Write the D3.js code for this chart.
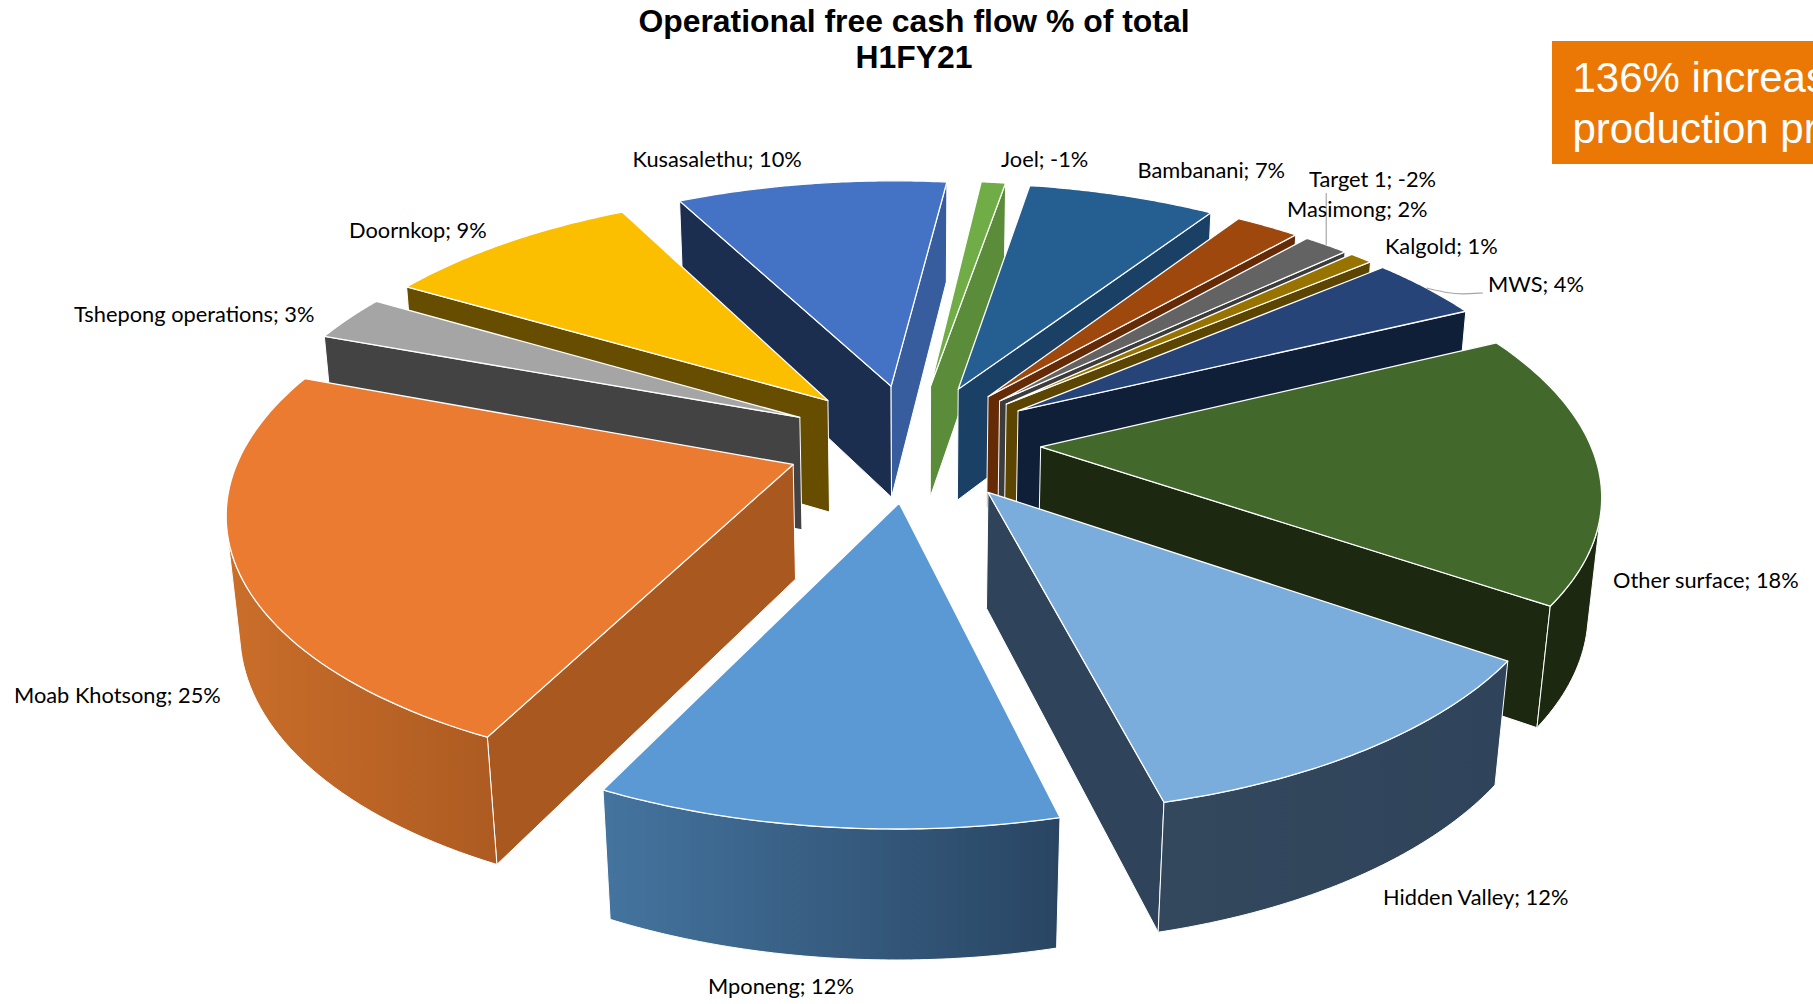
<!DOCTYPE html><html><head><meta charset="utf-8"><script src="https://cdn.jsdelivr.net/npm/d3@7"></script>
<style>html,body{margin:0;background:#fff;overflow:hidden}svg{display:block}</style></head><body><svg id="chart" width="1813" height="1004"></svg>
<script>
// ---- data, clockwise from the top of the pie
const mines=["Joel","Bambanani","Masimong","Target 1","Kalgold","MWS","Other surface","Hidden Valley","Mponeng","Moab Khotsong","Tshepong operations","Doornkop","Kusasalethu"];
const shares=[-0.90,6.92,2.37,-1.67,0.86,4.24,17.81,12.17,11.82,24.78,3.02,9.47,9.97];
const titleLines=["Operational free cash flow % of total","H1FY21"];
const calloutLines=["136% increas","production pr"];
// ---- styles
const topFill=["#70AD47","#255E91","#9E480E","#636363","#997300","#264478","#43682B","#7BADDC","#5B99D5","#EA7B31","#A5A5A5","#FBBF00","#4472C4"];
const startWall=["#43682B","#1A4165","#652B07","#3C3C3C","#5C4500","#101F38","#1C2810","#2F445A","#2F4F70","#A9581F","#434343","#664D00","#1B2E50"];
const endWall=["#5B8C3A","#1A4165","#652B07","#3C3C3C","#5C4500","#101F38","#1C2810","#2F445A","#2F4F70","#A9581F","#434343","#664D00","#385D9E"];
const rimWallLeft=["#5B8C3A","#1A4165","#652B07","#3C3C3C","#5C4500","#101F38","#1C2810","#33475D","#44749F","#CA6E2A","#434343","#664D00","#385D9E"];
const rimWallRight=["#5B8C3A","#1A4165","#652B07","#3C3C3C","#5C4500","#101F38","#1C2810","#2F445A","#294562","#AD5B22","#434343","#664D00","#385D9E"];
// ---- label layout: left edge and baseline of each label
const labelX=[1001,1137.5,1287,1309,1385,1488,1613,1383,708,14,74,349,632.5];
const labelY=[166.7,178,217,187,254,292,588,905,994,703,322,238,166.7];
// ---- the 3D view: camera elevation, perspective distance, pie geometry
const view={cx:913.2,cy:442.3,radius:549,elevation:0.4804,distance:3115,depth:130.6,explode:127.5,start:0.115};
const sinE=Math.sin(view.elevation),cosE=Math.cos(view.elevation);
function project(arcData,r,theta,z){
  const mid=(arcData.startAngle+arcData.endAngle)/2;
  const x=view.explode*Math.sin(mid)+r*Math.sin(theta),y=view.explode*Math.cos(mid)+r*Math.cos(theta);
  const up=y*sinE+z*cosE,away=y*cosE-z*sinE,w=view.distance/(view.distance+away);
  return [view.cx+x*w,view.cy-up*w];
}
const slices=d3.pie().sort(null).value(d=>Math.abs(d)).startAngle(view.start).endAngle(view.start+2*Math.PI)(shares);
const svg=d3.select("#chart"),defs=svg.append("defs"),path=d3.line();
const nearness=d=>{const m=(d.startAngle+d.endAngle)/2;return Math.cos(m)*(view.explode+view.radius/2);};
const gPie=svg.append("g");
d3.sort(slices,d=>-nearness(d)).forEach(d=>{
  const i=d.index,steps=d3.range(0,61).map(k=>d3.interpolateNumber(d.startAngle,d.endAngle)(k/60));
  const g=gPie.append("g").attr("class","slice");
  const rimTop=steps.map(t=>project(d,view.radius,t,0)),rimBot=steps.map(t=>project(d,view.radius,t,-view.depth));
  const apexTop=project(d,0,0,0),apexBot=project(d,0,0,-view.depth);
  const faces=q=>d3.polygonArea(q)>0;
  const quad=(q,fill)=>{if(faces(q))g.append("path").attr("d",path(q)+"Z").attr("fill",fill).attr("stroke","#fff").attr("stroke-width",1).attr("stroke-linejoin","round");};
  quad([apexTop,rimTop[0],rimBot[0],apexBot],startWall[i]);
  quad([rimTop[60],apexTop,apexBot,rimBot[60]],endWall[i]);
  const seen=d3.range(60).filter(k=>faces([rimTop[k],rimTop[k+1],rimBot[k+1],rimBot[k]]));
  if(seen.length){
    const idx=[...seen,seen[seen.length-1]+1];
    const poly=[...idx.map(k=>rimTop[k]),...idx.slice().reverse().map(k=>rimBot[k])];
    const xs=d3.extent(poly,p=>p[0]),id="rim"+i;
    const lg=defs.append("linearGradient").attr("id",id).attr("gradientUnits","userSpaceOnUse").attr("x1",xs[0]).attr("x2",xs[1]).attr("y1",0).attr("y2",0);
    lg.append("stop").attr("offset",0).attr("stop-color",rimWallLeft[i]);
    lg.append("stop").attr("offset",1).attr("stop-color",rimWallRight[i]);
    g.append("path").attr("d",path(poly)+"Z").attr("fill",`url(#${id})`).attr("stroke","#fff").attr("stroke-width",1).attr("stroke-linejoin","round");
  }
  g.append("path").attr("d",path([apexTop,...rimTop])+"Z").attr("fill",topFill[i]).attr("stroke","#fff").attr("stroke-width",1.3).attr("stroke-linejoin","round");
});
// ---- leader lines run from the middle of a slice's rim to its label
const rimMid=name=>{const d=slices[mines.indexOf(name)];return project(d,view.radius,(d.startAngle+d.endAngle)/2,0);};
const tm=rimMid("Target 1");
svg.append("path").attr("d",path([[tm[0],193],tm])).attr("fill","none").attr("stroke","#A6A6A6").attr("stroke-width",1.2);
const mm=rimMid("MWS"),ml=mines.indexOf("MWS");
svg.append("path").attr("d",d3.line().curve(d3.curveBasis)([mm,[mm[0]+22,mm[1]+5],[mm[0]+35,mm[1]+6],[labelX[ml]-5,labelY[ml]+1]])).attr("fill","none").attr("stroke","#A6A6A6").attr("stroke-width",1.2);
// ---- data labels
svg.append("g").selectAll("text").data(slices).join("text")
  .attr("x",d=>labelX[d.index]).attr("y",d=>labelY[d.index])
  .attr("font-family","Lato").attr("font-size",21.8).attr("fill","#000")
  .text(d=>`${mines[d.index]}; ${Math.round(d.data)}%`);
// ---- title
svg.append("g").selectAll("text").data(titleLines).join("text")
  .attr("x",914).attr("y",(d,i)=>32+i*36).attr("text-anchor","middle")
  .attr("font-family","Liberation Sans").attr("font-weight","bold").attr("font-size",31.9).attr("fill","#000").text(d=>d);
// ---- callout box, cut off by the page edge as in the source
svg.append("rect").attr("x",1552).attr("y",41).attr("width",261).attr("height",123).attr("fill","#EB7704");
svg.append("g").selectAll("text").data(calloutLines).join("text")
  .attr("x",1572.5).attr("y",(d,i)=>91.7+i*50.8).attr("font-family","Liberation Sans").attr("font-size",42).attr("fill","#fff").text(d=>d);
</script></body></html>
